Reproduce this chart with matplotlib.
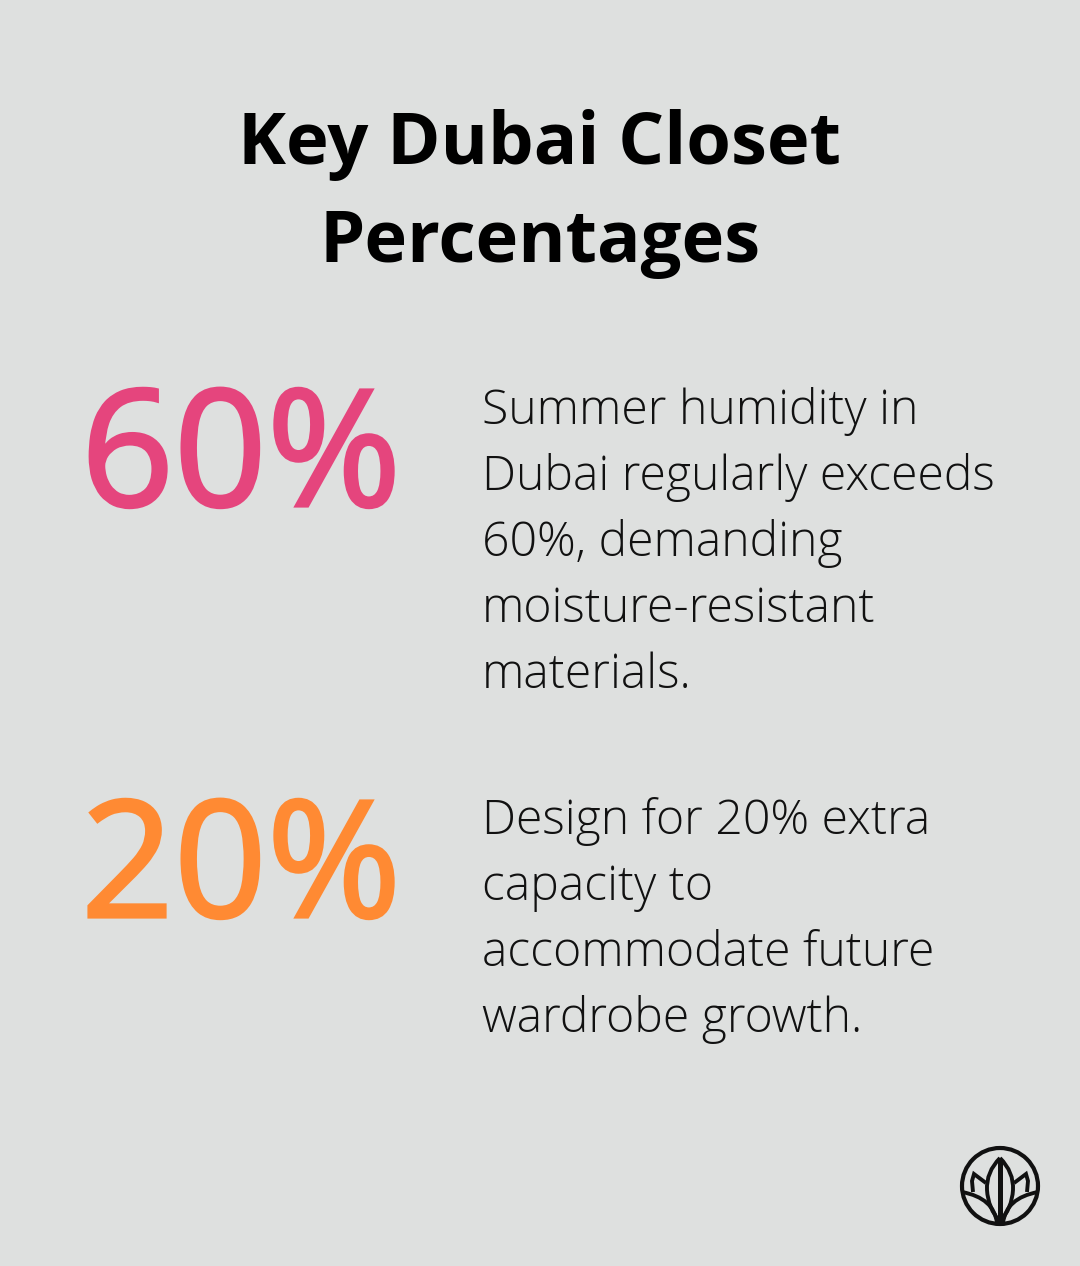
import matplotlib
matplotlib.use('Agg')
import matplotlib.pyplot as plt
import matplotlib.patheffects as pe
from matplotlib.patches import Circle, PathPatch
from matplotlib.path import Path

# Dados
title_lines = ['Key Dubai Closet', 'Percentages']
stats = ['60%', '20%']
stat_colors = ['#e5457d', '#ff8a33']
notes = [
    ['Summer humidity in', 'Dubai regularly exceeds', '60%, demanding', 'moisture-resistant', 'materials.'],
    ['Design for 20% extra', 'capacity to', 'accommodate future', 'wardrobe growth.'],
]

plt.rcParams['font.family'] = 'Open Sans'

fig = plt.figure(figsize=(10.8, 12.66), dpi=100, facecolor='#dee0df')
ax = fig.add_axes([0, 0, 1, 1])
ax.set_xlim(0, 1080)
ax.set_ylim(1266, 0)
ax.axis('off')

for y, line in zip([145, 243], title_lines):
    ax.text(540, y, line, ha='center', va='center', fontsize=52, fontweight='bold', color='black')

stat_y = [444, 855]
note_y = [[412, 478, 544, 610, 676], [822, 888, 954, 1020]]
for s, c, sy, lines, ys in zip(stats, stat_colors, stat_y, notes, note_y):
    t = ax.text(81, sy, s, ha='left', va='center_baseline', fontsize=117, color=c)
    # a fonte instalada sai mais fina que a original, engrossar o traco
    t.set_path_effects([pe.withStroke(linewidth=2.3, foreground=c, joinstyle='miter')])
    for line, y in zip(lines, ys):
        ax.text(482, y, line, ha='left', va='center', fontsize=34.7, fontweight='light', color='#111111')

# logo
ink = '#111111'
ax.add_patch(Circle((1000, 1186), 38, fill=False, ec=ink, lw=3))
M, C, L = Path.MOVETO, Path.CURVE3, Path.LINETO

# folha central
ax.plot([1000, 1000], [1160, 1223], color=ink, lw=3.6, solid_capstyle='butt')
leaf = [(1000, 1158), (1014, 1172), (1013, 1190), (1012, 1208), (1000, 1222),
        (988, 1208), (987, 1190), (986, 1172), (1000, 1158)]
ax.add_patch(PathPatch(Path(leaf, [M, C, C, C, C, C, C, C, C]), fill=False, ec=ink, lw=2.8))

# folhas de baixo e petalas laterais
for sgn in (-1, 1):
    low = [(1000 + sgn * 38, 1192), (1000 + sgn * 6, 1198), (1000 + sgn * 3, 1223)]
    ax.add_patch(PathPatch(Path(low, [M, C, C]), fill=False, ec=ink, lw=2.8))
    side = [(1000 + sgn * 14, 1183), (1000 + sgn * 26, 1174),
            (1000 + sgn * 28, 1181), (1000 + sgn * 27, 1192)]
    ax.add_patch(PathPatch(Path(side, [M, L, L, L]), fill=False, ec=ink, lw=2.8))

fig.savefig('out.png', dpi=100, facecolor=fig.get_facecolor())
